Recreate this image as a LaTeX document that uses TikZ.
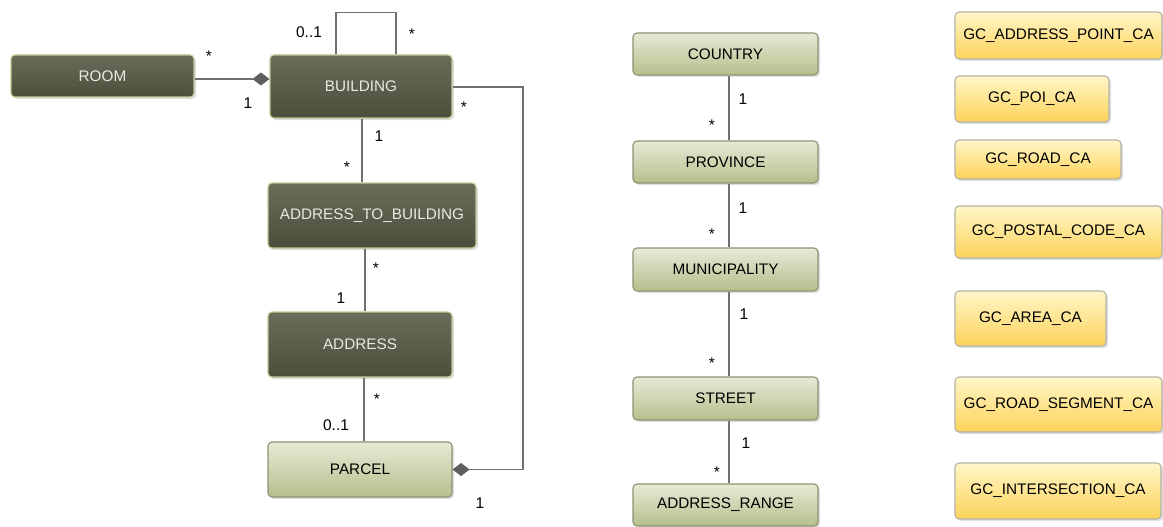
\documentclass[tikz,border=0pt]{standalone}
\usepackage{fontspec}
\setmainfont{Liberation Sans}
\usetikzlibrary{arrows.meta,shadows}
\definecolor{dktop}{HTML}{6B6C5A}
\definecolor{dkbot}{HTML}{4C4D3A}
\definecolor{dkborder}{HTML}{BFC98F}
\definecolor{dktext}{HTML}{EAEAE2}
\definecolor{lttop}{HTML}{E6EBD6}
\definecolor{ltbot}{HTML}{B5BF8C}
\definecolor{ltborder}{HTML}{8E9273}
\definecolor{yltop}{HTML}{FFF6C8}
\definecolor{ylbot}{HTML}{FDD35A}
\definecolor{ylborder}{HTML}{B4B2A6}
\definecolor{linegray}{HTML}{707070}
\definecolor{dmd}{HTML}{5E5E5E}
\tikzset{
  box/.style={rectangle, rounded corners=4pt, line width=1.1pt, inner sep=0pt,
    font=\fontsize{15.3}{17}\selectfont,
    drop shadow={shadow xshift=2pt,shadow yshift=-2pt,opacity=0.25}},
  dark/.style={box, draw=dkborder, top color=dktop, bottom color=dkbot, text=dktext},
  light/.style={box, draw=ltborder, top color=lttop, bottom color=ltbot, text=black},
  yel/.style={box, draw=ylborder, top color=yltop, bottom color=ylbot, text=black},
  conn/.style={draw=linegray, line width=1.1pt},
  comp/.style={conn, -{Diamond[length=17pt,width=13pt,color=dmd]}},
  lbl/.style={anchor=base, inner sep=0pt, font=\fontsize{15.5}{17}\selectfont, text=black}
}
\begin{document}
\begin{tikzpicture}[x=1pt,y=-1pt]
\useasboundingbox (0,0) rectangle (1163,527);
% left group
\node[dark, minimum width=183pt, minimum height=42pt] (room) at (102.5,76) {ROOM};
\node[dark, minimum width=182pt, minimum height=63pt] (building) at (361,86.5) {BUILDING};
\node[dark, minimum width=208pt, minimum height=65pt] (atb) at (372,215.5) {ADDRESS\_TO\_BUILDING};
\node[dark, minimum width=184pt, minimum height=65pt] (address) at (360,344.5) {ADDRESS};
\node[light, minimum width=184pt, minimum height=55pt] (parcel) at (360,469.5) {PARCEL};
% middle group
\node[light, minimum width=185pt, minimum height=42pt] (country) at (725.5,54) {COUNTRY};
\node[light, minimum width=185pt, minimum height=42pt] (province) at (725.5,162) {PROVINCE};
\node[light, minimum width=185pt, minimum height=43pt] (municipality) at (725.5,269.5) {MUNICIPALITY};
\node[light, minimum width=185pt, minimum height=43pt] (street) at (725.5,398.5) {STREET};
\node[light, minimum width=185pt, minimum height=42pt] (addrange) at (725.5,505) {ADDRESS\_RANGE};
% right group
\node[yel, minimum width=207pt, minimum height=47pt] (gc1) at (1058.5,35.5) {GC\_ADDRESS\_POINT\_CA};
\node[yel, minimum width=154pt, minimum height=46pt] (gc2) at (1032,99) {GC\_POI\_CA};
\node[yel, minimum width=166pt, minimum height=39pt] (gc3) at (1038,159.5) {GC\_ROAD\_CA};
\node[yel, minimum width=207pt, minimum height=52pt] (gc4) at (1058.5,232) {GC\_POSTAL\_CODE\_CA};
\node[yel, minimum width=151pt, minimum height=55pt] (gc5) at (1030.5,318.5) {GC\_AREA\_CA};
\node[yel, minimum width=207pt, minimum height=55pt] (gc6) at (1058.5,404.5) {GC\_ROAD\_SEGMENT\_CA};
\node[yel, minimum width=206pt, minimum height=56pt] (gc7) at (1058,491) {GC\_INTERSECTION\_CA};
% connectors left
\draw[comp] ([yshift=-3pt]room.east) -- ([yshift=-3pt]room.east -| building.west);
\draw[conn] ([xshift=-25pt]building.north) -- ++(0,-42) -| ([xshift=35pt]building.north);
\coordinate (r1) at (523,87);
\draw[comp] (building.east |- r1) -- (r1) |- (parcel.east);
\draw[conn] ([xshift=1pt]building.south) -- ([xshift=1pt]building.south |- atb.north);
\draw[conn] ([xshift=-7pt]atb.south) -- ([xshift=-7pt]atb.south |- address.north);
\draw[conn] ([xshift=4pt]address.south) -- ([xshift=4pt]address.south |- parcel.north);
% connectors middle
\draw[conn] ([xshift=3.5pt]country.south) -- ([xshift=3.5pt]province.north);
\draw[conn] ([xshift=3.5pt]province.south) -- ([xshift=3.5pt]municipality.north);
\draw[conn] ([xshift=3.5pt]municipality.south) -- ([xshift=3.5pt]street.north);
\draw[conn] ([xshift=3.5pt]street.south) -- ([xshift=3.5pt]addrange.north);
% labels
\node[lbl] (l1) at (209,62) {*};
\node[lbl] (l2) at (248,109) {1};
\node[lbl] (l3) at (309,38) {0..1};
\node[lbl] (l4) at (412,40) {*};
\node[lbl] (l5) at (464,113) {*};
\node[lbl] (l6) at (379,141) {1};
\node[lbl] (l7) at (347,172) {*};
\node[lbl] (l8) at (376,273) {*};
\node[lbl] (l9) at (341,303) {1};
\node[lbl] (l10) at (377,404) {*};
\node[lbl] (l11) at (336,430) {0..1};
\node[lbl] (l12) at (480,508) {1};
\node[lbl] (m1) at (743,105) {1};
\node[lbl] (m2) at (712,130) {*};
\node[lbl] (m3) at (743,213) {1};
\node[lbl] (m4) at (712,239) {*};
\node[lbl] (m5) at (744,319) {1};
\node[lbl] (m6) at (712,368) {*};
\node[lbl] (m7) at (746,448) {1};
\node[lbl] (m8) at (717,477) {*};
\end{tikzpicture}
\end{document}
